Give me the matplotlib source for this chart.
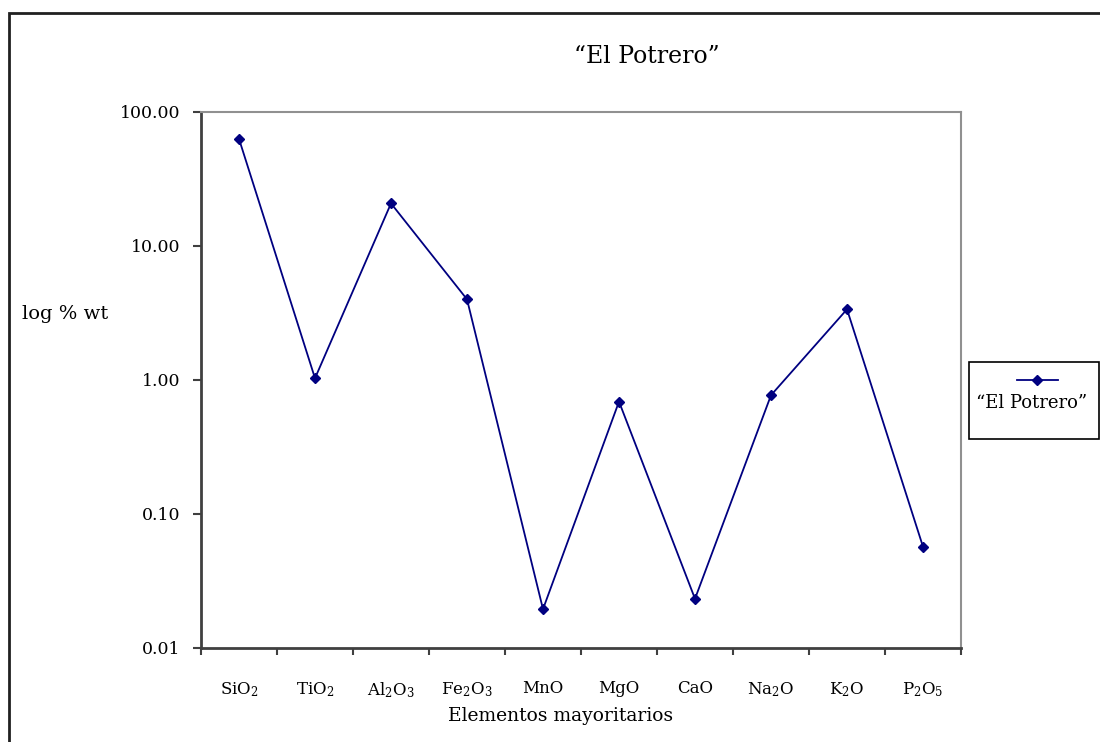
import matplotlib
matplotlib.use('Agg')
import matplotlib.pyplot as plt
from matplotlib.lines import Line2D
from matplotlib.patches import Rectangle
from matplotlib.ticker import FixedLocator, NullLocator, FuncFormatter

plt.rcParams['font.family'] = ['DejaVu Serif']
plt.rcParams['mathtext.fontset'] = 'dejavuserif'

# oxidos mayoritarios, muestra "El Potrero"
oxides = [r'SiO$_2$', r'TiO$_2$', r'Al$_2$O$_3$', r'Fe$_2$O$_3$', 'MnO',
          'MgO', 'CaO', r'Na$_2$O', r'K$_2$O', r'P$_2$O$_5$']
wt = [63.0, 1.03, 20.8, 4.0, 0.0195, 0.69, 0.0233, 0.77, 3.37, 0.057]
series_name = '\u201cEl Potrero\u201d'
yticks = [0.01, 0.1, 1, 10, 100]

W, H = 1100, 742
fig = plt.figure(figsize=(W / 100, H / 100), dpi=100)
fig.patch.set_facecolor('white')

def fx(px):
    return px / W

def fy(py):
    return 1 - py / H

ax = fig.add_axes([fx(201), fy(648), fx(961) - fx(201), fy(112) - fy(648)])
x = list(range(len(oxides)))
ax.plot(x, wt, color='#000080', lw=1.3, marker='D', ms=5, mfc='#000080', mec='#000080')
ax.set_yscale('log')
ax.set_ylim(0.01, 100)
ax.set_xlim(-0.5, len(oxides) - 0.5)

ax.yaxis.set_major_locator(FixedLocator(yticks))
ax.yaxis.set_minor_locator(NullLocator())
ax.yaxis.set_major_formatter(FuncFormatter(lambda v, p: '%.2f' % v))
ax.tick_params(axis='y', which='major', direction='out', length=6, width=1.5,
               color='#404040', labelsize=12.5, pad=9)

ax.set_xticks(x)
ax.set_xticklabels(oxides)
ax.set_xticks([i - 0.5 for i in range(len(oxides) + 1)], minor=True)
ax.tick_params(axis='x', which='major', length=0, labelsize=12, pad=23)
ax.tick_params(axis='x', which='minor', direction='out', length=5, width=1.5, color='#404040')

for s in ['left', 'bottom']:
    ax.spines[s].set_color('#404040')
    ax.spines[s].set_linewidth(2)
for s in ['top', 'right']:
    ax.spines[s].set_color('#909090')
    ax.spines[s].set_linewidth(1.5)

fig.text(fx(647), fy(63), series_name, ha='center', va='baseline', fontsize=17)
fig.text(fx(561), fy(716), 'Elementos mayoritarios', ha='center', va='center', fontsize=13.5)
fig.text(fx(22), fy(314), 'log % wt', ha='left', va='center', fontsize=14)

# leyenda
fig.patches.append(Rectangle((fx(969), fy(439)), fx(1099) - fx(969), fy(362) - fy(439),
                             transform=fig.transFigure, fill=False, ec='black', lw=1.2))
fig.lines.append(Line2D([fx(1017), fx(1058)], [fy(380), fy(380)], transform=fig.transFigure,
                        color='#000080', lw=1.3))
fig.lines.append(Line2D([fx(1037)], [fy(380)], transform=fig.transFigure, color='#000080',
                        marker='D', ms=5, ls='none'))
fig.text(fx(1032), fy(403), series_name, ha='center', va='center', fontsize=13)

# marco exterior
fig.patches.append(Rectangle((fx(9), fy(H + 10)), fx(W + 10), fy(13) - fy(H + 10),
                             transform=fig.transFigure, fill=False, ec='#202020', lw=2))

fig.savefig('out.png', dpi=100)
